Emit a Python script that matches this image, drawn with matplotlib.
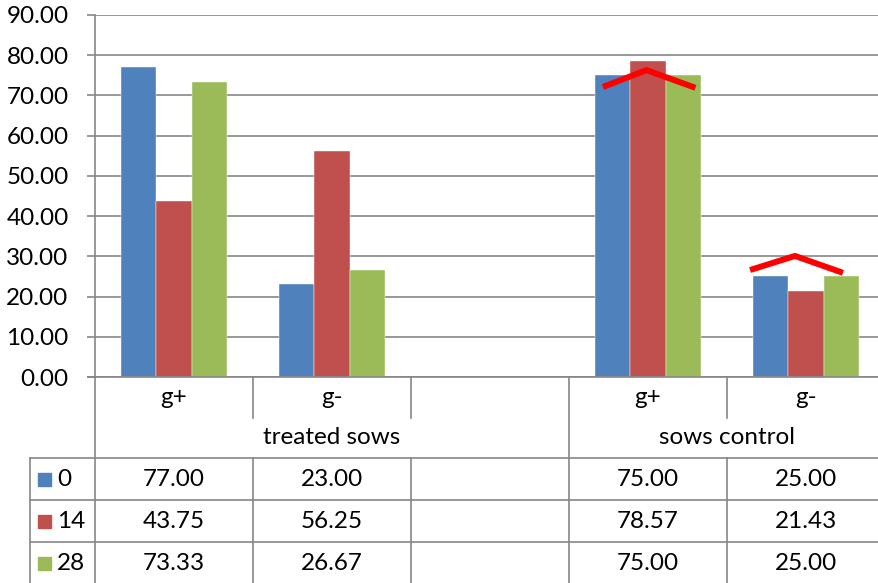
import matplotlib.pyplot as plt
from matplotlib.patches import Rectangle
import matplotlib.transforms as mtransforms

plt.rcParams['font.family'] = ['Lato', 'DejaVu Sans']

# data table / bar values
slots = ['g+', 'g-', '', 'g+', 'g-']
groups = ['treated sows', 'sows control']
group_pos = [1.0, 3.5]
days = ['0', '14', '28']
day0 = [77.00, 23.00, None, 75.00, 25.00]
day14 = [43.75, 56.25, None, 78.57, 21.43]
day28 = [73.33, 26.67, None, 75.00, 25.00]
colors = ['#4F81BD', '#C0504D', '#9BBB59']
yticks = [0, 10, 20, 30, 40, 50, 60, 70, 80, 90]

# hand drawn red marks over the control bars (x in slot units, y in %)
mark1_x = [2.715, 2.99, 3.30]
mark1_y = [72.1, 76.3, 71.9]
mark2_x = [3.646, 3.93, 4.234]
mark2_y = [26.6, 30.1, 25.9]

W, H = 879, 583
fig = plt.figure(figsize=(W / 100, H / 100), dpi=100)
ax = fig.add_axes([95 / W, 1 - 377 / H, 790 / W, 362 / H])

grid_c = '#868686'
fs = 17.5

bw = 0.222
series = [day0, day14, day28]
for k, vals in enumerate(series):
    for i, v in enumerate(vals):
        if v is None:
            continue
        ax.bar(i + (k - 1) * bw, v, width=bw, color=colors[k],
               edgecolor='white', linewidth=0.3, zorder=3)

ax.plot(mark1_x, mark1_y, color='#FF0000', lw=4.3, zorder=5,
        solid_capstyle='butt')
ax.plot(mark2_x, mark2_y, color='#FF0000', lw=4.3, zorder=5,
        solid_capstyle='butt')

ax.set_xlim(-0.5, 4.5)
ax.set_ylim(0, 90)
ax.set_yticks(yticks)
ax.set_yticklabels([f'{t:.2f}' for t in yticks], fontsize=fs)
ax.yaxis.grid(True, color=grid_c, lw=1.2)
ax.set_axisbelow(True)
ax.set_xticks([])
for s in ['top', 'right', 'bottom']:
    ax.spines[s].set_visible(False)
ax.spines['left'].set_color(grid_c)
ax.spines['left'].set_linewidth(1.2)
ax.tick_params(axis='y', length=6, width=1.2, color=grid_c, pad=13)

# data table below the axis: x in slot units, y in pixels from the top
tr = mtransforms.blended_transform_factory(ax.transData, fig.transFigure)


def fy(py):
    return 1 - py / H


def fx(px):
    return px / W


lkw = dict(color=grid_c, lw=1.2, clip_on=False)
rows = [458, 500, 542, 584]
# x axis line
fig.add_artist(plt.Line2D([fx(88), 1], [fy(377), fy(377)], **lkw))
for r in rows:
    fig.add_artist(plt.Line2D([fx(30), 1], [fy(r), fy(r)], **lkw))
fig.add_artist(plt.Line2D([fx(30), fx(30)], [fy(458), fy(584)], **lkw))
for xb in [-0.5, 2.5]:
    fig.add_artist(plt.Line2D([xb, xb], [fy(377), fy(584)], transform=tr, **lkw))
for xb in [0.5, 1.5, 3.5]:
    fig.add_artist(plt.Line2D([xb, xb], [fy(377), fy(418)], transform=tr, **lkw))
    fig.add_artist(plt.Line2D([xb, xb], [fy(458), fy(584)], transform=tr, **lkw))

for i, lab in enumerate(slots):
    fig.text(i, fy(398), lab, transform=tr, ha='center', va='center', fontsize=fs)
for g, gp in zip(groups, group_pos):
    fig.text(gp, fy(438), g, transform=tr, ha='center', va='center', fontsize=fs)

row_c = [479, 521, 563]
for k, vals in enumerate(series):
    yc = row_c[k]
    fig.add_artist(Rectangle((fx(38), fy(yc + 7)), 13 / W, 13 / H,
                             transform=fig.transFigure, color=colors[k]))
    fig.text(fx(57), fy(yc), days[k], ha='left', va='center', fontsize=fs)
    for i, v in enumerate(vals):
        if v is None:
            continue
        fig.text(i, fy(yc), f'{v:.2f}', transform=tr, ha='center',
                 va='center', fontsize=fs)

fig.savefig('out.png', dpi=100)
